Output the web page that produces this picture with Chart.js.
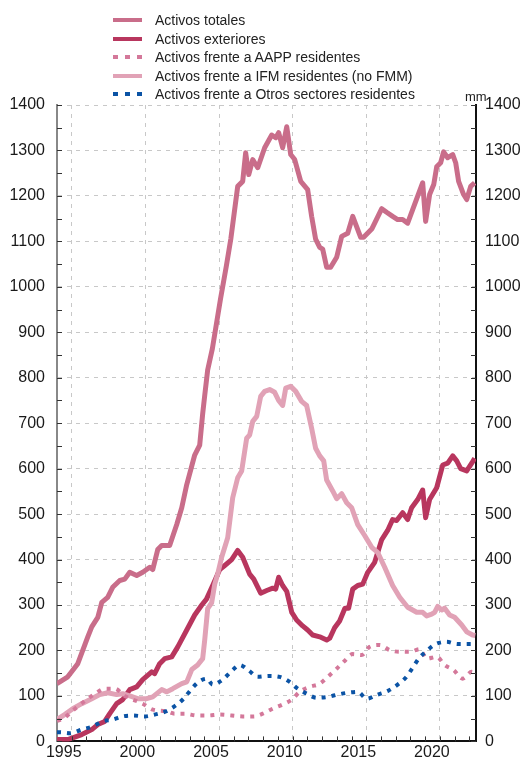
<!DOCTYPE html>
<html lang="es">
  <head>
    <meta charset="UTF-8" />
    <title>Activos</title>
    <script src="https://cdn.jsdelivr.net/npm/chart.js@4.4.1/dist/chart.umd.min.js"></script>
    <style>
      body { margin: 0; background: #fff; font-family: 'Liberation Sans', Arial, sans-serif; }
      #wrap { position: relative; width: 522px; height: 763px; }
      #legend { position: absolute; left: 113px; top: 10.7px; }
      .row { display: flex; align-items: center; height: 18.6px; font-size: 14px; color: #222; white-space: nowrap; }
      .swatch { width: 29px; height: 4px; margin-right: 13px; }
      #unit { position: absolute; left: 465px; top: 89px; font-size: 13px; color: #222; }
    </style>
  </head>

  <body>
    <div id="wrap">
      <canvas id="chart" width="522" height="763"></canvas>
      <div id="legend"></div>
      <div id="unit">mm</div>
    </div>

    <script>
      const seriesNames = [
        'Activos totales',
        'Activos exteriores',
        'Activos frente a AAPP residentes',
        'Activos frente a IFM residentes (no FMM)',
        'Activos frente a Otros sectores residentes',
      ]
      const xTicks = [1995, 2000, 2005, 2010, 2015, 2020]

      // [year, value] pairs
      const activosTotales = [
        [1994.0, 127], [1994.73, 142], [1995.41, 171], [1996.09, 230], [1996.36, 252],
        [1996.77, 273], [1997.04, 306], [1997.44, 317], [1997.78, 339], [1998.26, 354],
        [1998.6, 357], [1998.94, 372], [1999.41, 365], [1999.82, 372], [2000.3, 383],
        [2000.5, 378], [2000.84, 422], [2001.11, 431], [2001.65, 431], [2002.13, 477],
        [2002.47, 514], [2002.81, 565], [2003.35, 630], [2003.69, 652], [2003.89, 720],
        [2004.03, 761], [2004.23, 817], [2004.55, 864], [2005.1, 973],
        [2005.5, 1046], [2005.8, 1105], [2006.27, 1221], [2006.61, 1232], [2006.81, 1295],
        [2007.02, 1247], [2007.29, 1280], [2007.63, 1262], [2008.1, 1306], [2008.58, 1334],
        [2008.85, 1328], [2009.05, 1339], [2009.32, 1306], [2009.6, 1352], [2009.87, 1291],
        [2010.14, 1280], [2010.55, 1232], [2011.02, 1214], [2011.29, 1155], [2011.56, 1105],
        [2011.84, 1087], [2012.04, 1083], [2012.31, 1043], [2012.58, 1043], [2012.99, 1065],
        [2013.33, 1111], [2013.74, 1118], [2014.08, 1155], [2014.62, 1109], [2014.82, 1109],
        [2015.37, 1127], [2016.05, 1172], [2016.38, 1164], [2016.79, 1155], [2017.13, 1148],
        [2017.47, 1148], [2017.81, 1140], [2018.15, 1170], [2018.83, 1229], [2019.03, 1144],
        [2019.3, 1203], [2019.58, 1225], [2019.78, 1264], [2020.05, 1273], [2020.25, 1297],
        [2020.53, 1284], [2020.87, 1291], [2021.07, 1273], [2021.27, 1232], [2021.61, 1203],
        [2021.82, 1192], [2022.09, 1221], [2022.36, 1229],
      ]
      const activosExteriores = [
        [1994.0, 4], [1994.73, 4], [1995.68, 15], [1996.36, 26], [1996.77, 37],
        [1997.24, 44], [1997.58, 61], [1998.05, 83], [1998.46, 92], [1998.94, 114],
        [1999.41, 120], [1999.82, 136], [2000.43, 153], [2000.63, 149], [2000.97, 171],
        [2001.31, 182], [2001.79, 186], [2002.2, 208], [2002.81, 245], [2003.35, 278],
        [2003.83, 300], [2004.15, 313], [2004.6, 345], [2005.05, 378], [2005.39, 387],
        [2005.86, 400], [2006.27, 420], [2006.61, 405], [2007.08, 368], [2007.36, 357],
        [2007.83, 326], [2008.24, 332], [2008.65, 337], [2008.85, 335], [2009.05, 361],
        [2009.32, 343], [2009.6, 330], [2009.94, 284], [2010.27, 267], [2010.68, 254],
        [2011.02, 245], [2011.36, 234], [2011.84, 230], [2012.31, 223], [2012.52, 227],
        [2012.85, 250], [2013.19, 265], [2013.55, 293], [2013.8, 293], [2014.08, 335],
        [2014.42, 343], [2014.76, 346], [2015.1, 372], [2015.57, 394], [2016.05, 444],
        [2016.45, 464], [2016.79, 488], [2017.06, 486], [2017.47, 503], [2017.81, 488],
        [2018.08, 514], [2018.49, 532], [2018.83, 553], [2019.03, 492], [2019.3, 532],
        [2019.78, 558], [2020.19, 608], [2020.53, 612], [2020.87, 628], [2021.14, 617],
        [2021.41, 600], [2021.82, 595], [2022.16, 612], [2022.36, 623],
      ]
      const activosAapp = [
        [1994.0, 45], [1994.5, 52], [1995.0, 66], [1996.02, 92], [1996.6, 105],
        [1997.24, 116], [1997.92, 116], [1998.6, 100], [1999.82, 83], [2000.5, 70],
        [2001.45, 66], [2001.99, 61], [2002.67, 61], [2003.49, 57], [2004.23, 57],
        [2005.05, 59], [2005.86, 57], [2006.61, 55], [2007.36, 55], [2007.97, 61],
        [2008.65, 72], [2009.32, 81], [2009.94, 92], [2010.48, 109], [2011.16, 120],
        [2011.84, 127], [2012.38, 142], [2012.99, 160], [2013.53, 177], [2014.08, 192],
        [2014.69, 190], [2015.23, 208], [2015.91, 212], [2016.59, 201], [2017.27, 197],
        [2017.95, 197], [2018.63, 203], [2019.1, 182], [2019.78, 186], [2020.32, 168],
        [2020.93, 157], [2021.54, 138], [2022.16, 153], [2022.4, 150],
      ]
      const activosIfm = [
        [1994.0, 48], [1994.52, 59], [1995.07, 72], [1995.68, 83], [1996.36, 94],
        [1996.9, 103], [1997.44, 107], [1998.05, 103], [1998.46, 105], [1998.94, 100],
        [1999.48, 94], [2000.09, 94], [2000.5, 98], [2001.11, 114], [2001.45, 109],
        [2001.86, 116], [2002.47, 127], [2002.81, 131], [2003.15, 158], [2003.55, 168],
        [2003.89, 182], [2004.03, 223], [2004.23, 292], [2004.5, 305], [2004.71, 346],
        [2004.91, 368], [2005.18, 405], [2005.59, 448], [2005.93, 536], [2006.27, 580],
        [2006.54, 595], [2006.88, 667], [2007.08, 674], [2007.29, 704], [2007.56, 715],
        [2007.83, 759], [2008.1, 770], [2008.44, 774], [2008.78, 768], [2009.05, 750],
        [2009.32, 739], [2009.53, 777], [2009.87, 781], [2010.21, 770], [2010.61, 748],
        [2010.95, 739], [2011.29, 689], [2011.56, 645], [2011.84, 628], [2012.11, 617],
        [2012.31, 575], [2012.72, 551], [2012.99, 534], [2013.33, 545], [2013.67, 525],
        [2014.01, 514], [2014.42, 477], [2014.89, 453], [2015.37, 427], [2015.77, 416],
        [2016.25, 383], [2016.79, 343], [2017.27, 317], [2017.81, 295], [2018.42, 284],
        [2018.83, 284], [2019.1, 276], [2019.44, 280], [2019.64, 284], [2019.85, 297],
        [2020.12, 289], [2020.32, 293], [2020.66, 278], [2021.0, 273], [2021.48, 256],
        [2021.82, 241], [2022.22, 234], [2022.4, 233],
      ]
      const activosOtros = [
        [1994.0, 20], [1994.19, 20], [1994.86, 18], [1995.68, 26], [1996.43, 33],
        [1997.1, 44], [1997.78, 48], [1998.46, 55], [1999.14, 57], [1999.96, 55],
        [2000.63, 59], [2001.38, 66], [2002.06, 79], [2002.6, 94], [2003.15, 116],
        [2003.62, 131], [2004.17, 138], [2004.57, 125], [2005.25, 136], [2005.86, 155],
        [2006.41, 168], [2007.02, 156], [2007.63, 142], [2008.37, 144], [2009.12, 142],
        [2009.8, 131], [2010.27, 118], [2010.95, 105], [2011.63, 96], [2012.38, 98],
        [2013.06, 103], [2013.74, 107], [2014.42, 109], [2015.03, 94], [2015.77, 103],
        [2016.52, 112], [2017.13, 125], [2017.67, 140], [2018.15, 162], [2018.56, 182],
        [2019.1, 199], [2019.71, 214], [2020.46, 219], [2021.2, 214], [2022.02, 214],
        [2022.4, 214],
      ]

      const colors = ['#c96d8a', '#b8365e', '#d4789a', '#e1a2b6', '#0b53a5']
      const dotted = [false, false, true, false, true]
      const drawOrder = [5, 4, 2, 3, 1]
      const allSeries = [activosTotales, activosExteriores, activosAapp, activosIfm, activosOtros]

      const font = { family: "'Liberation Sans', Arial, sans-serif", size: 16 }
      const textColor = '#1a1a1a'

      // legend
      const legend = document.getElementById('legend')
      seriesNames.forEach((name, i) => {
        const row = document.createElement('div')
        row.className = 'row'
        const sw = document.createElement('span')
        sw.className = 'swatch'
        sw.style.background = dotted[i]
          ? `repeating-linear-gradient(90deg, ${colors[i]} 0 5px, transparent 5px 12px)`
          : colors[i]
        const label = document.createElement('span')
        label.textContent = name
        row.appendChild(sw)
        row.appendChild(label)
        legend.appendChild(row)
      })

      const datasets = allSeries.map((points, i) => ({
        label: seriesNames[i],
        data: points.map((p) => ({ x: p[0], y: p[1] })),
        borderColor: colors[i],
        borderWidth: dotted[i] ? 4 : 5,
        borderDash: dotted[i] ? [4, 6] : [],
        borderCapStyle: 'butt',
        borderJoinStyle: 'round',
        cubicInterpolationMode: dotted[i] ? 'monotone' : 'default',
        pointRadius: 0,
        fill: false,
        order: drawOrder[i],
      }))

      // small inward tick marks on all three axes
      const inwardTicks = {
        id: 'inwardTicks',
        afterDraw(chart) {
          const { ctx, chartArea: a, scales } = chart
          ctx.save()
          ctx.strokeStyle = '#333'
          ctx.lineWidth = 1
          ctx.beginPath()
          for (let v = 0; v <= 1400; v += 50) {
            const y = Math.round(scales.y.getPixelForValue(v)) + 0.5
            ctx.moveTo(a.left, y)
            ctx.lineTo(a.left + 5, y)
            ctx.moveTo(a.right, y)
            ctx.lineTo(a.right - 5, y)
          }
          for (let yr = 1995; yr <= 2022; yr++) {
            const x = Math.round(scales.x.getPixelForValue(yr)) + 0.5
            ctx.moveTo(x, a.bottom)
            ctx.lineTo(x, a.bottom - 5)
          }
          ctx.stroke()
          ctx.restore()
        },
      }

      const gridStyle = { color: '#c8c8c8', lineWidth: 1, drawTicks: false }

      new Chart(document.getElementById('chart').getContext('2d'), {
        type: 'line',
        data: { datasets: datasets },
        options: {
          responsive: false,
          animation: false,
          layout: { padding: { top: 105, left: 0, right: 0, bottom: 0 } },
          plugins: {
            legend: { display: false },
            tooltip: { enabled: false },
          },
          scales: {
            x: {
              type: 'linear',
              min: 1994,
              max: 2022.45,
              afterBuildTicks: (s) => {
                s.ticks = xTicks.map((v) => ({ value: v }))
              },
              afterFit: (s) => {
                s.height = 18
              },
              grid: gridStyle,
              border: { color: '#111', width: 2, dash: [4, 5] },
              ticks: {
                padding: 2,
                labelOffset: -8,
                maxRotation: 0,
                font: font,
                color: textColor,
                callback: (v) => String(v),
              },
            },
            y: {
              position: 'left',
              min: 0,
              max: 1400,
              afterFit: (s) => {
                s.width = 57
              },
              grid: gridStyle,
              border: { color: '#888', width: 2, dash: [4, 5] },
              ticks: {
                stepSize: 100,
                padding: 12,
                font: font,
                color: textColor,
                callback: (v) => String(v),
              },
            },
            y2: {
              position: 'right',
              min: 0,
              max: 1400,
              afterFit: (s) => {
                s.width = 46
              },
              grid: { drawOnChartArea: false, drawTicks: false },
              border: { color: '#111', width: 2 },
              ticks: {
                stepSize: 100,
                padding: 9,
                font: font,
                color: textColor,
                callback: (v) => String(v),
              },
            },
          },
        },
        plugins: [inwardTicks],
      })
    </script>
  </body>
</html>
